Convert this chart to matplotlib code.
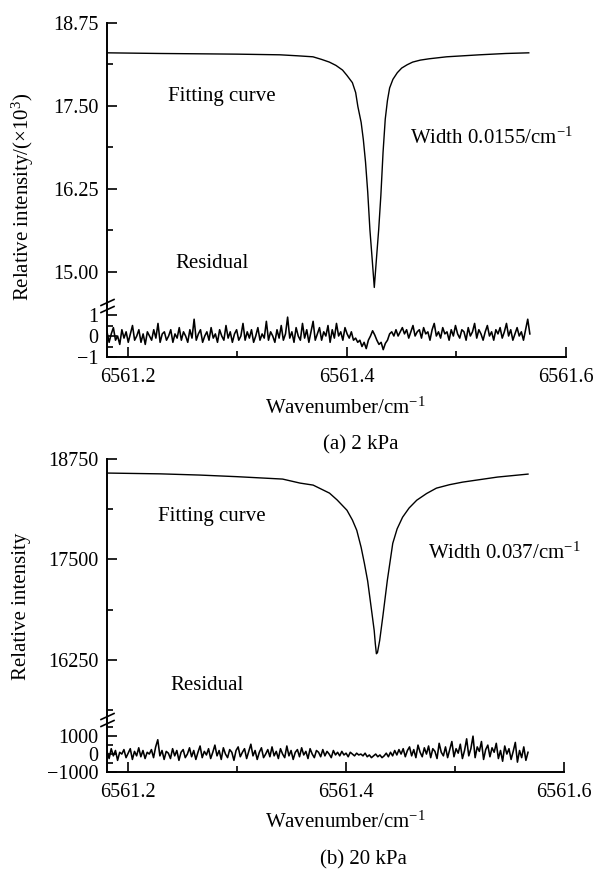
import matplotlib
matplotlib.use('Agg')
import matplotlib.pyplot as plt
import numpy as np
from matplotlib.lines import Line2D
from matplotlib.ticker import MultipleLocator, FormatStrFormatter

plt.rcParams['font.family'] = ['Liberation Serif', 'DejaVu Serif']
plt.rcParams['mathtext.fontset'] = 'custom'
plt.rcParams['mathtext.rm'] = 'Liberation Serif'
plt.rcParams['mathtext.it'] = 'Liberation Serif:italic'
plt.rcParams['axes.unicode_minus'] = True

# ---- data ----
# (a) 2 kPa fitting curve, intensity in 10^3
waveA = [6561.181, 6561.230, 6561.266, 6561.300, 6561.339, 6561.355, 6561.369,
         6561.377, 6561.384, 6561.390, 6561.396, 6561.400, 6561.405, 6561.408,
         6561.410, 6561.413, 6561.415, 6561.417, 6561.419, 6561.421, 6561.423,
         6561.425, 6561.427, 6561.429, 6561.431, 6561.433, 6561.435, 6561.437,
         6561.439, 6561.442, 6561.446, 6561.450, 6561.455, 6561.460, 6561.467,
         6561.475, 6561.491, 6561.521, 6561.545, 6561.566]
fitA = [18.30, 18.29, 18.285, 18.28, 18.27, 18.255, 18.24,
        18.20, 18.16, 18.11, 18.04, 17.96, 17.85, 17.70,
        17.49, 17.25, 16.99, 16.65, 16.20, 15.63, 15.20,
        14.76, 15.20, 15.63, 16.15, 16.80, 17.30, 17.58,
        17.77, 17.90, 18.00, 18.07, 18.12, 18.16, 18.19,
        18.21, 18.24, 18.27, 18.29, 18.30]

residA = [
    0.2, -0.3, 0.1, 0.4, -0.2, 0.0, -0.4, 0.3, -0.1, 0.2,
    -0.3, 0.1, 0.5, -0.2, 0.0, 0.3, -0.3, 0.1, -0.4, 0.2,
    0.0, -0.2, 0.3, -0.1, 0.6, -0.3, 0.1, 0.2, -0.2, 0.0,
    0.3, -0.3, 0.1, -0.1, 0.4, -0.2, 0.2, 0.0, -0.3, 0.3,
    -0.1, 0.8, -0.2, 0.1, 0.3, -0.3, 0.0, 0.2, -0.2, 0.4,
    -0.1, 0.1, -0.3, 0.3, 0.0, -0.2, 0.5, -0.1, 0.2, -0.3,
    0.1, 0.3, -0.2, 0.0, 0.6, -0.2, 0.2, -0.1, 0.3, -0.3,
    0.0, 0.4, -0.2, 0.1, -0.1, 0.7, -0.2, 0.2, 0.0, -0.3,
    0.3, -0.1, 0.5, -0.2, 0.1, 0.9, -0.1, 0.2, -0.3, 0.4,
    0.0, -0.2, 0.6, -0.1, 0.3, -0.3, 0.2, 0.7, -0.2, 0.1,
    0.4, -0.2, 0.2, 0.0, 0.5, -0.3, 0.3, -0.1, 0.6, 0.0,
    0.2, -0.2, 0.4, 0.1, -0.1, 0.2, -0.2, -0.1, -0.3, -0.2,
    -0.5, -0.3, -0.6, -0.2, 0.0, 0.25, 0.05, -0.2, -0.4, -0.3,
    -0.65, -0.35, -0.2, 0.1, 0.2, 0.0, 0.3, 0.0, 0.2, 0.4,
    0.1, 0.3, -0.1, 0.2, 0.5, 0.0, 0.2, 0.3, -0.1, 0.4,
    0.1, 0.2, -0.2, 0.3, 0.6, 0.0, 0.2, -0.1, 0.4, 0.1,
    0.2, -0.2, 0.3, 0.0, 0.5, 0.1, -0.1, 0.3, 0.2, -0.2,
    0.4, 0.0, 0.2, 0.6, -0.1, 0.3, 0.1, -0.2, 0.2, 0.5,
    0.0, 0.2, -0.2, 0.3, 0.1, 0.4, -0.1, 0.2, 0.6, 0.0,
    0.3, -0.2, 0.1, 0.4, 0.0, 0.2, -0.2, 0.3, 0.8, 0.1]

# (b) 20 kPa fitting curve
waveB = [6561.181, 6561.230, 6561.266, 6561.300, 6561.342, 6561.358, 6561.370,
         6561.385, 6561.392, 6561.401, 6561.406, 6561.410, 6561.414, 6561.417,
         6561.420, 6561.422, 6561.424, 6561.426, 6561.427, 6561.428, 6561.429,
         6561.431, 6561.434, 6561.438, 6561.443, 6561.447, 6561.452, 6561.458,
         6561.465, 6561.474, 6561.483, 6561.495, 6561.507, 6561.539, 6561.567]
fitB = [18575, 18565, 18550, 18530, 18500, 18450, 18425,
        18325, 18240, 18112, 17990, 17862, 17650, 17450,
        17230, 17025, 16820, 16612, 16450, 16325, 16340,
        16490, 16800, 17237, 17700, 17880, 18025, 18140,
        18237, 18320, 18387, 18430, 18462, 18525, 18562]

residB = [
    150, -250, 300, -100, 200, -350, 100, 0, 250, -200,
    50, 300, -300, 150, -100, 350, -150, 200, -250, 100,
    0, 250, -200, 400, 800, -100, 200, -300, 150, 50,
    -250, 300, -100, 200, -350, 100, 250, -200, 0, 350,
    -150, 200, -300, 100, 450, -200, 150, -50, 300, -250,
    100, 500, -100, 200, -300, 350, 0, -200, 250, 100,
    -350, 200, 400, -150, 100, 300, -250, 150, 550, -100,
    200, -300, 100, 350, -200, 0, 250, -150, 400, -100,
    150, -250, 300, 0, -200, 450, -100, 200, -300, 100,
    250, -150, 350, -50, 150, -250, 300, 0, -200, 200,
    100, -150, 250, -100, 150, 0, -200, 200, -50, 100,
    -100, 150, -50, 50, -150, 100, 0, -100, 50, -50,
    0, -100, 50, -150, -50, -200, -100, 0, -150, -50,
    -200, -100, 50, -150, 100, -100, 200, -50, 250, 0,
    300, -150, 200, 400, -100, 250, -200, 500, 100, -150,
    350, 0, 450, -200, 300, 150, -250, 600, 100, -100,
    400, -200, 250, 700, -150, 300, 50, 550, -250, 200,
    850, -100, 300, 1000, -200, 400, 150, 700, -300, 250,
    500, -150, 350, 100, 600, -250, 200, -400, 450, 0,
    300, -300, 150, 650, -450, 200, -200, 400, -350, 100]

residStart = 6561.181
residEnd = 6561.567

W, H = 594, 869
fig = plt.figure(figsize=(W / 100, H / 100), dpi=100)


def box(left, top, right, bottom):
    # pixel box -> figure fraction
    return [left / W, 1 - bottom / H, (right - left) / W, (bottom - top) / H]


def styleAxis(ax):
    ax.tick_params(which='both', direction='in', labelsize=14.5, width=1.2)
    ax.tick_params(which='major', length=7, pad=6)
    ax.tick_params(which='minor', length=4)
    for side in ['left', 'bottom']:
        ax.spines[side].set_linewidth(1.4)
    ax.spines['top'].set_visible(False)
    ax.spines['right'].set_visible(False)


def makePanel(wave, fit, resid, yTop, yBreak, yBottom, right,
              topLim, topStep, topFmt, resLim, resStep):
    axTop = fig.add_axes(box(107, yTop, right, yBreak))
    axRes = fig.add_axes(box(107, yBreak, right, yBottom))

    axTop.plot(wave, fit, color='black', lw=1.0)
    xr = np.linspace(residStart, residEnd, len(resid))
    axRes.plot(xr, resid, color='black', lw=1.15)

    for ax in [axTop, axRes]:
        ax.set_xlim(6561.181, 6561.6)
        styleAxis(ax)

    axTop.set_ylim(topLim)
    axTop.yaxis.set_major_locator(MultipleLocator(topStep))
    axTop.yaxis.set_minor_locator(MultipleLocator(topStep / 2))
    axTop.yaxis.set_major_formatter(FormatStrFormatter(topFmt))
    axTop.spines['bottom'].set_visible(False)
    axTop.tick_params(axis='x', which='both', bottom=False, labelbottom=False)

    axRes.set_ylim(resLim)
    axRes.yaxis.set_major_locator(MultipleLocator(resStep))
    axRes.yaxis.set_minor_locator(MultipleLocator(resStep / 2))
    axRes.xaxis.set_major_locator(MultipleLocator(0.2))
    axRes.xaxis.set_minor_locator(MultipleLocator(0.1))
    axRes.xaxis.set_major_formatter(FormatStrFormatter('%.1f'))
    axRes.tick_params(axis='x', which='major', pad=8)

    # break marks on the left spine
    for dy in [-3.5, 3.5]:
        yc = yBreak + dy
        fig.add_artist(Line2D([101 / W, 114 / W],
                              [1 - (yc + 3) / H, 1 - (yc - 3) / H],
                              color='black', lw=1.2))
    return axTop, axRes


makePanel(waveA, fitA, residA, 23, 306, 357, 566,
          (14.48, 18.75), 1.25, '%.2f', (-1, 1.43), 1)
makePanel(waveB, fitB, residB, 459, 720, 772, 564,
          (15500, 18750), 1250, '%d', (-1000, 1900), 1000)

# annotations
fig.text(222 / W, 1 - 97 / H, 'Fitting curve', fontsize=15, ha='center', va='center')
fig.text(212 / W, 1 - 263 / H, 'Residual', fontsize=15, ha='center', va='center')
fig.text(410 / W, 1 - 138 / H, 'Width 0.0155/cm$^{-1}$', fontsize=15, ha='left', va='center')
fig.text(23 / W, 1 - 197 / H, 'Relative intensity/(×10$^{3}$)', fontsize=15,
         rotation=90, ha='center', va='center')
fig.text(345 / W, 1 - 408 / H, 'Wavenumber/cm$^{-1}$', fontsize=15, ha='center', va='center')
fig.text(361 / W, 1 - 445 / H, '(a) 2 kPa', fontsize=15, ha='center', va='center')

fig.text(212 / W, 1 - 517 / H, 'Fitting curve', fontsize=15, ha='center', va='center')
fig.text(207 / W, 1 - 686 / H, 'Residual', fontsize=15, ha='center', va='center')
fig.text(428 / W, 1 - 553 / H, 'Width 0.037/cm$^{-1}$', fontsize=15, ha='left', va='center')
fig.text(22 / W, 1 - 606 / H, 'Relative intensity', fontsize=15,
         rotation=90, ha='center', va='center')
fig.text(345 / W, 1 - 822 / H, 'Wavenumber/cm$^{-1}$', fontsize=15, ha='center', va='center')
fig.text(363 / W, 1 - 860 / H, '(b) 20 kPa', fontsize=15, ha='center', va='center')

fig.savefig('out.png', dpi=100)
